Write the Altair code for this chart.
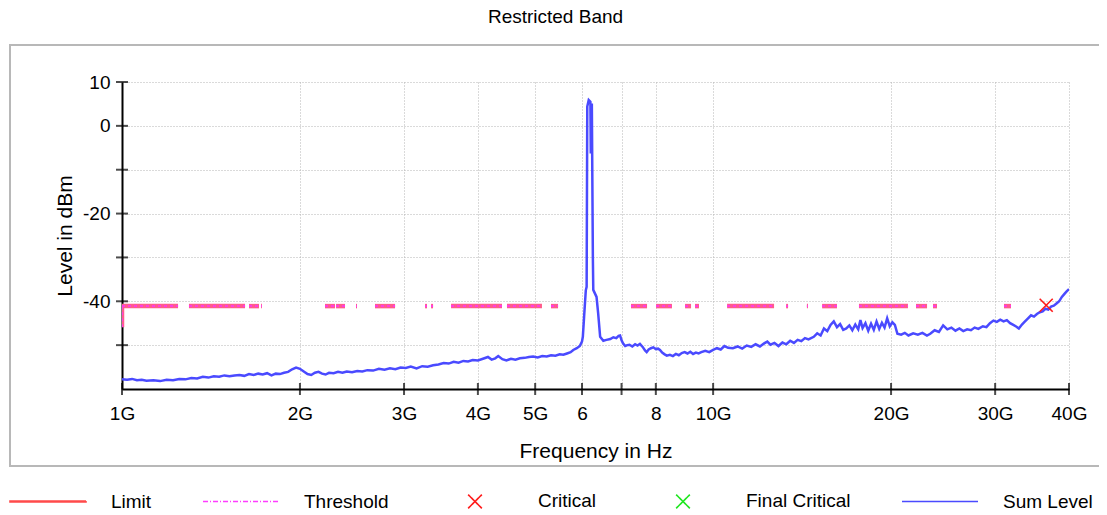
import altair as alt
import pandas as pd

FONT = "Liberation Sans"

TITLE = "Restricted Band"
X_TITLE = "Frequency in Hz"
Y_TITLE = "Level in dBm"

X_DOMAIN = [1, 40]          # GHz
Y_DOMAIN = [-60, 10]        # dBm
X_TICKS = [1, 2, 3, 4, 5, 6, 7, 8, 10, 20, 30, 40]
X_TICK_LABELS = ["1G", "2G", "3G", "4G", "5G", "6", "", "8", "10G", "20G", "30G", "40G"]
Y_TICKS = [-60, -50, -40, -30, -20, -10, 0, 10]
Y_LABELED = [10, 0, -20, -40]
Y_TICK_MARKS = [-50, -40, -30, -20, -10, 0, 10]

# (frequency GHz, level dBm)
SUM_TRACE = [
    (1.00, -57.8), (1.02, -57.9), (1.04, -57.7), (1.06, -58.0), (1.08, -57.9), (1.10, -58.1),
    (1.13, -58.0), (1.16, -58.2), (1.19, -57.9), (1.22, -58.0), (1.25, -57.7), (1.28, -57.8),
    (1.31, -57.5), (1.34, -57.6), (1.37, -57.2), (1.40, -57.4), (1.43, -57.1), (1.46, -57.2),
    (1.49, -56.9), (1.52, -57.1), (1.55, -56.9), (1.58, -56.8), (1.61, -57.0), (1.64, -56.6),
    (1.67, -56.8), (1.70, -56.5), (1.73, -56.7), (1.76, -56.4), (1.79, -56.9), (1.82, -56.5),
    (1.85, -56.6), (1.88, -56.3), (1.91, -56.1), (1.94, -55.5), (1.97, -55.1), (2.00, -55.4),
    (2.03, -56.0), (2.06, -56.6), (2.09, -56.8), (2.12, -56.3), (2.15, -56.1), (2.18, -56.5),
    (2.21, -56.7), (2.24, -56.3), (2.28, -56.4), (2.32, -56.1), (2.36, -56.3), (2.40, -56.0),
    (2.45, -56.2), (2.50, -55.9), (2.55, -56.0), (2.60, -55.7), (2.66, -55.8), (2.72, -55.4),
    (2.78, -55.6), (2.84, -55.3), (2.90, -55.5), (2.96, -55.1), (3.02, -55.2), (3.08, -54.9),
    (3.15, -55.3), (3.22, -54.8), (3.29, -54.9), (3.36, -54.6), (3.43, -54.4), (3.50, -54.1),
    (3.57, -54.2), (3.64, -53.8), (3.71, -54.0), (3.78, -53.6), (3.85, -53.7), (3.92, -53.4),
    (4.00, -53.5), (4.08, -53.1), (4.16, -52.7), (4.22, -53.3), (4.28, -53.0), (4.33, -52.5),
    (4.40, -53.2), (4.47, -53.5), (4.55, -53.1), (4.63, -53.3), (4.71, -53.0), (4.80, -52.9),
    (4.88, -52.7), (4.96, -52.6), (5.05, -52.8), (5.14, -52.5), (5.23, -52.6), (5.32, -52.3),
    (5.41, -52.4), (5.50, -52.1), (5.58, -52.2), (5.66, -51.9), (5.74, -51.6), (5.80, -51.1),
    (5.88, -50.7), (5.95, -50.2), (6.00, -49.2), (6.02, -48.1), (6.05, -43.5), (6.09, -37.5),
    (6.11, -36.7), (6.125, 4.4), (6.16, 5.9), (6.20, 5.5), (6.21, -6.3), (6.225, -5.0),
    (6.235, 5.1), (6.26, -30.0), (6.27, -37.4), (6.35, -39.0), (6.39, -42.7), (6.44, -48.1),
    (6.52, -49.0), (6.60, -48.8), (6.70, -48.6), (6.78, -48.2), (6.86, -48.4), (6.92, -47.9),
    (6.96, -47.8), (7.00, -48.9), (7.04, -49.6), (7.10, -50.2), (7.16, -50.0), (7.22, -49.9),
    (7.30, -50.3), (7.38, -49.8), (7.45, -50.1), (7.52, -49.7), (7.60, -50.4), (7.67, -51.2),
    (7.72, -51.6), (7.78, -51.0), (7.85, -50.7), (7.92, -50.5), (8.00, -50.9), (8.07, -50.8),
    (8.13, -51.1), (8.20, -51.7), (8.28, -52.1), (8.35, -52.4), (8.45, -52.2), (8.55, -52.5),
    (8.65, -52.0), (8.75, -52.3), (8.85, -51.8), (8.95, -51.6), (9.05, -51.9), (9.15, -51.5),
    (9.25, -52.0), (9.35, -51.7), (9.45, -51.9), (9.55, -51.6), (9.70, -51.3), (9.85, -51.6),
    (10.0, -51.1), (10.15, -50.7), (10.3, -51.0), (10.45, -50.2), (10.6, -50.6), (10.8, -50.7),
    (11.0, -50.3), (11.2, -50.8), (11.4, -50.1), (11.6, -50.4), (11.8, -49.8), (12.0, -50.3),
    (12.2, -49.6), (12.35, -49.2), (12.5, -49.9), (12.7, -49.5), (12.9, -50.2), (13.1, -49.4),
    (13.3, -49.8), (13.5, -49.0), (13.7, -49.5), (13.9, -48.8), (14.1, -49.1), (14.3, -48.4),
    (14.5, -48.7), (14.8, -48.1), (15.0, -47.3), (15.2, -47.8), (15.4, -46.2), (15.6, -46.8),
    (15.8, -45.4), (16.0, -44.6), (16.2, -45.9), (16.4, -45.2), (16.6, -46.5), (16.8, -46.2),
    (17.0, -45.5), (17.2, -46.6), (17.4, -45.3), (17.6, -46.4), (17.75, -44.3), (17.9, -46.1),
    (18.1, -45.0), (18.3, -46.7), (18.5, -45.1), (18.7, -46.5), (18.9, -44.6), (19.1, -46.3),
    (19.3, -44.9), (19.5, -46.0), (19.7, -43.9), (19.9, -45.7), (20.1, -44.8), (20.3, -45.4),
    (20.5, -47.4), (20.8, -47.6), (21.1, -47.2), (21.4, -47.8), (21.8, -47.3), (22.2, -47.6),
    (22.6, -47.2), (23.0, -47.8), (23.3, -47.4), (23.7, -46.6), (24.1, -47.0), (24.5, -45.5),
    (24.9, -46.4), (25.3, -46.0), (25.7, -46.7), (26.1, -46.2), (26.5, -46.8), (26.9, -46.4),
    (27.3, -46.6), (27.7, -46.0), (28.1, -46.3), (28.6, -45.7), (29.0, -45.9), (29.4, -45.0),
    (29.8, -44.4), (30.2, -44.7), (30.6, -44.2), (31.0, -44.6), (31.4, -44.3), (31.8, -45.0),
    (32.2, -45.4), (32.6, -45.8), (32.9, -46.2), (33.3, -45.3), (33.7, -44.6), (34.1, -43.9),
    (34.5, -43.2), (34.9, -43.5), (35.3, -42.9), (35.7, -42.5), (36.1, -42.3), (36.5, -41.7),
    (36.9, -41.9), (37.3, -41.2), (37.7, -41.0), (38.1, -40.5), (38.5, -40.0), (38.9, -39.0),
    (39.3, -38.3), (39.6, -37.8), (40.0, -37.2),
]

LIMIT_LEVEL = -41.1
LIMIT_START_LEVEL = -45.9
# frequency spans (GHz) where the limit / threshold line is drawn
LIMIT_SPANS = [
    (1.00, 1.244), (1.298, 1.615), (1.640, 1.705), (1.719, 1.725), (2.205, 2.293),
    (2.302, 2.384), (2.488, 2.498), (2.679, 2.897), (3.256, 3.281), (3.333, 3.359),
    (3.603, 4.394), (4.480, 5.134), (5.318, 5.466), (7.262, 7.731), (8.008, 8.519),
    (8.965, 9.176), (9.320, 9.465), (10.56, 12.68), (13.29, 13.39), (14.41, 14.47),
    (15.29, 16.20), (17.65, 21.36), (22.04, 23.01), (23.55, 23.92), (31.05, 31.91),
]

CRITICAL_FREQ = [36.6]
CRITICAL_LEVEL = [-40.9]

LEGEND_NAMES = ["Limit", "Threshold", "Critical", "Final Critical", "Sum Level"]
LEGEND_COLORS = ["#ff4a4a", "#ff3cff", "#ff1a1a", "#1ee61e", "#4a4aff"]
X_PATH_SMALL = "M-0.18,-0.18L0.18,0.18M-0.18,0.18L0.18,-0.18"
LEGEND_SHAPES = ["M-1,-0.013H1V0.013H-1Z", "stroke", X_PATH_SMALL, X_PATH_SMALL, "stroke"]
LEGEND_DASHES = [[1, 0], [5, 2, 1, 2], [1, 0], [1, 0], [1, 0]]

# ---------------------------------------------------------------- data frames
sum_df = pd.DataFrame(SUM_TRACE, columns=["f", "level"])

limit_rows = [
    {"f": X_DOMAIN[0], "level": LIMIT_START_LEVEL, "seg": -1},
    {"f": X_DOMAIN[0], "level": LIMIT_LEVEL, "seg": -1},
]
for i, (a, b) in enumerate(LIMIT_SPANS):
    limit_rows.append({"f": a, "level": LIMIT_LEVEL, "seg": i})
    limit_rows.append({"f": b, "level": LIMIT_LEVEL, "seg": i})
limit_df = pd.DataFrame(limit_rows)

crit_df = pd.DataFrame({"f": CRITICAL_FREQ, "level": CRITICAL_LEVEL})
ytick_df = pd.DataFrame({"f": [X_DOMAIN[0]] * len(Y_TICK_MARKS), "level": Y_TICK_MARKS})
xtick_df = pd.DataFrame({"f": X_TICKS, "level": [Y_DOMAIN[0]] * len(X_TICKS)})
legend_df = pd.DataFrame({"series": LEGEND_NAMES, "f": [0.5] * len(LEGEND_NAMES),
                          "level": [0] * len(LEGEND_NAMES)})

x_label_expr = " : ".join(
    f"datum.value == {v} ? '{lab}'" for v, lab in zip(X_TICKS, X_TICK_LABELS)
) + " : ''"
y_label_expr = f"indexof({Y_LABELED}, datum.value) >= 0 ? toString(datum.value) : ''"

x_enc = alt.X(
    "f:Q",
    scale=alt.Scale(type="log", domain=X_DOMAIN),
    axis=alt.Axis(values=X_TICKS, labelExpr=x_label_expr, title=X_TITLE,
                  labelFlush=False, labelOverlap=False, labelPadding=15,
                  titlePadding=17, grid=True),
)
y_enc = alt.Y(
    "level:Q",
    scale=alt.Scale(domain=Y_DOMAIN, nice=False, zero=False),
    axis=alt.Axis(values=Y_TICKS, labelExpr=y_label_expr, title=Y_TITLE,
                  labelFlush=False, labelOverlap=False, labelPadding=12,
                  titlePadding=7, grid=True),
)

frame = alt.Chart(alt.Data(values=[{}])).mark_rect(
    fill="transparent", stroke="#b8b8b8", strokeWidth=2
).encode(x=alt.value(-112), x2=alt.value(982), y=alt.value(-37), y2=alt.value(384))

limit_line = alt.Chart(limit_df).mark_line(
    color="#ff5c8c", strokeWidth=4.5, clip=True
).encode(x=x_enc, y=y_enc, detail="seg:N")

threshold_line = alt.Chart(limit_df).mark_line(
    color="#ff33ff", strokeWidth=1.5, strokeDash=[3, 3], clip=True
).encode(x=x_enc, y=y_enc, detail="seg:N")

sum_line = alt.Chart(sum_df).mark_line(
    color="#4a4aff", strokeWidth=2.5, clip=True
).encode(x=x_enc, y=y_enc)

crit = alt.Chart(crit_df).mark_point(
    shape="M-1,-1L1,1M-1,1L1,-1", size=170, filled=False, color="#ff1a1a",
    strokeWidth=1.6, opacity=1
).encode(x=x_enc, y=y_enc)

yticks = alt.Chart(ytick_df).mark_tick(
    orient="horizontal", size=12, thickness=2, color="black"
).encode(x=x_enc, y=y_enc)

xticks = alt.Chart(xtick_df).mark_tick(
    orient="vertical", size=12, thickness=2, color="black"
).encode(x=x_enc, y=y_enc)

legend_props = dict(
    title=None, orient="none", legendX=-113, legendY=380, direction="horizontal",
    symbolSize=5776, symbolStrokeWidth=1.6, labelFont=FONT, labelFontSize=19,
    labelColor="black", labelOffset=24, columnPadding=47, labelLimit=300,
)

legend_layer = alt.Chart(legend_df).mark_point(
    clip=True, filled=False, opacity=1, strokeWidth=1.6
).encode(
    x=x_enc, y=y_enc,
    color=alt.Color("series:N", scale=alt.Scale(domain=LEGEND_NAMES, range=LEGEND_COLORS),
                    legend=alt.Legend(**legend_props)),
    shape=alt.Shape("series:N", scale=alt.Scale(domain=LEGEND_NAMES, range=LEGEND_SHAPES),
                    legend=alt.Legend(**legend_props)),
    strokeDash=alt.StrokeDash("series:N", scale=alt.Scale(domain=LEGEND_NAMES, range=LEGEND_DASHES),
                              legend=alt.Legend(**legend_props)),
)

chart = alt.layer(
    frame, limit_line, threshold_line, sum_line, crit, yticks, xticks, legend_layer
).properties(
    width=947,
    height=307,
    autosize=alt.AutoSizeParams(type="none"),
    padding={"left": 114, "top": 74, "right": 30, "bottom": 124},
    title=alt.TitleParams(TITLE, font=FONT, fontSize=19, fontWeight="normal",
                          color="black", anchor="middle", dx=-40, offset=17),
).configure_axis(
    domainColor="black", domainWidth=2, ticks=False,
    gridColor="#b4b4b4", gridDash=[1, 2], gridWidth=1,
    labelFont=FONT, labelFontSize=19, labelColor="black",
    titleFont=FONT, titleFontSize=21, titleFontWeight="normal", titleColor="black",
).configure_view(stroke="transparent")

chart.save("out.html", embed_options={"renderer": "svg", "actions": False})
